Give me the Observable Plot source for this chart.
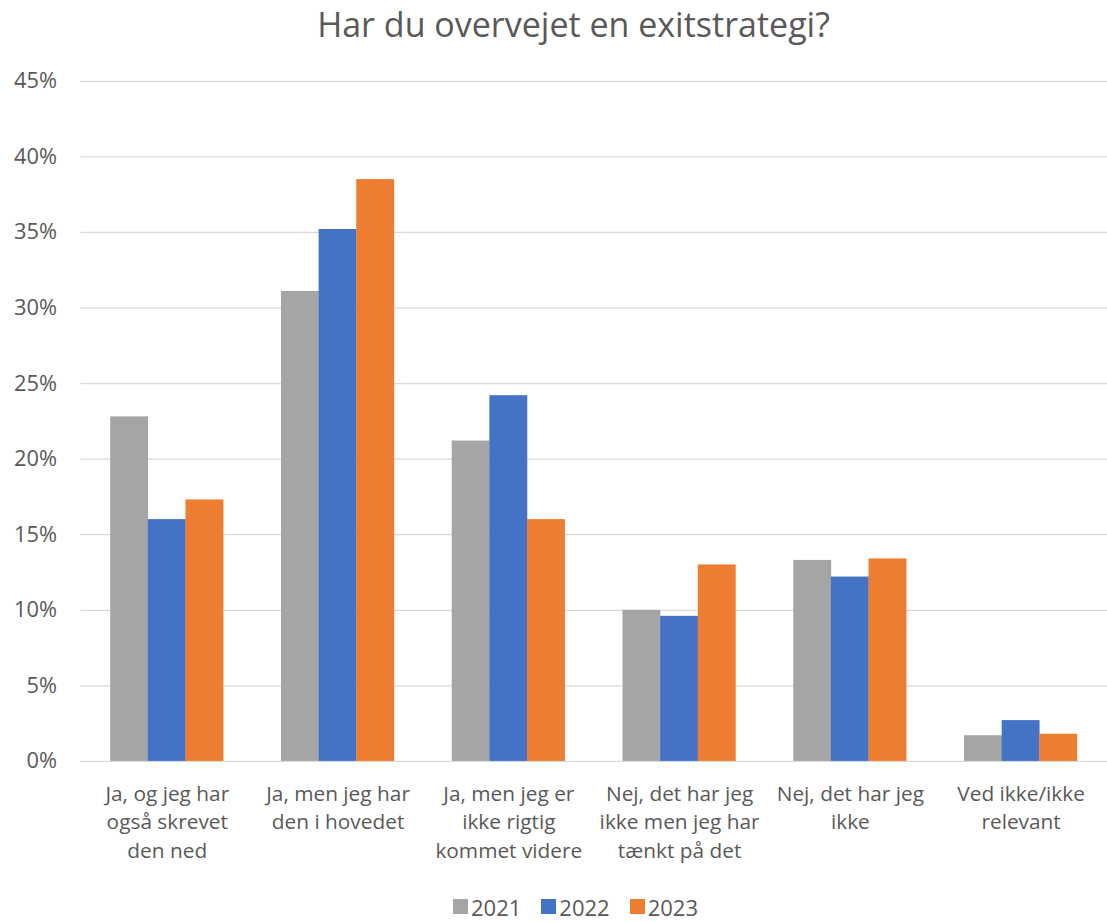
<!DOCTYPE html>
<html>
<head>
<meta charset="utf-8">
<script src="https://cdn.jsdelivr.net/npm/d3@7"></script>
<script src="https://cdn.jsdelivr.net/npm/@observablehq/plot@0.6"></script>
<style>
  html, body { margin: 0; padding: 0; background: #fff; overflow: hidden; }
  body { font-family: "Open Sans", sans-serif; color: #595959; width: 1107px; }
  #title { height: 60px; line-height: 48px; font-size: 34px; text-align: center; padding-left: 40px; box-sizing: border-box; width: 1107px; }
  #legend { display: flex; justify-content: center; gap: 20px; font-size: 22px; padding-left: 44px; padding-top: 12px; box-sizing: border-box; width: 1107px; height: 41px; align-items: center; }
  #legend .item { display: flex; align-items: center; gap: 3px; }
  #legend .sw { width: 15px; height: 15px; display: inline-block; }
  svg { display: block; }
</style>
</head>
<body>
<div id="title">Har du overvejet en exitstrategi?</div>
<div id="chart"></div>
<div id="legend"></div>
<script>
const categories = [
  "Ja, og jeg har også skrevet den ned",
  "Ja, men jeg har den i hovedet",
  "Ja, men jeg er ikke rigtig kommet videre",
  "Nej, det har jeg ikke men jeg har tænkt på det",
  "Nej, det har jeg ikke",
  "Ved ikke/ikke relevant"
];
const categoryLines = [
  "Ja, og jeg har\nogså skrevet\nden ned",
  "Ja, men jeg har\nden i hovedet",
  "Ja, men jeg er\nikke rigtig\nkommet videre",
  "Nej, det har jeg\nikke men jeg har\ntænkt på det",
  "Nej, det har jeg\nikke",
  "Ved ikke/ikke\nrelevant"
];
const years = ["2021", "2022", "2023"];
const values2021 = [22.8, 31.1, 21.2, 10.0, 13.3, 1.7];
const values2022 = [16.0, 35.2, 24.2, 9.6, 12.2, 2.7];
const values2023 = [17.3, 38.5, 16.0, 13.0, 13.4, 1.8];
const yTicks = [0, 5, 10, 15, 20, 25, 30, 35, 40, 45];
const colors = ["#a5a5a5", "#4472c4", "#ed7d31"];

const series = [values2021, values2022, values2023];
const labelOf = Object.fromEntries(categories.map((c, i) => [c, categoryLines[i]]));

const W = 1115, ML = 81, MR = 0;
const paddingInner = 0.34, paddingOuter = 0.17;
const step = (W - ML - MR) / (categories.length - paddingInner + 2 * paddingOuter);
const bandwidth = step * (1 - paddingInner);
const third = bandwidth / years.length;

const barMarks = years.map((y, j) => {
  const rows = categories.map((c, i) => ({category: c, year: y, value: series[j][i]}));
  return Plot.barY(rows, {
    x: "category", y: "value", fill: colors[j],
    insetLeft: j * third, insetRight: (years.length - 1 - j) * third
  });
});

const chart = Plot.plot({
  width: W,
  height: 826,
  marginLeft: ML,
  marginRight: MR,
  marginTop: 21,
  marginBottom: 120,
  style: {fontFamily: "Open Sans, sans-serif", color: "#595959", background: "#fff"},
  x: {domain: categories, paddingInner, paddingOuter, axis: null},
  y: {domain: [0, 45], label: null, axis: null},
  marks: [
    Plot.ruleY(yTicks, {stroke: "#d9d9d9", strokeWidth: 1.3}),
    ...barMarks,
    Plot.axisY(yTicks, {
      tickSize: 0, tickPadding: 24, fontSize: 22, fill: "#595959",
      tickFormat: d => d + "%", label: null
    }),
    Plot.axisX({
      tickSize: 0, tickPadding: 19, fontSize: 21, fill: "#595959",
      tickFormat: d => labelOf[d], lineHeight: 1.38, lineWidth: 40, label: null, anchor: "bottom"
    })
  ]
});
document.getElementById("chart").appendChild(chart);

const legend = document.getElementById("legend");
years.forEach((y, i) => {
  const item = document.createElement("span");
  item.className = "item";
  const sw = document.createElement("span");
  sw.className = "sw";
  sw.style.background = colors[i];
  item.appendChild(sw);
  item.appendChild(document.createTextNode(y));
  legend.appendChild(item);
});
</script>
</body>
</html>
